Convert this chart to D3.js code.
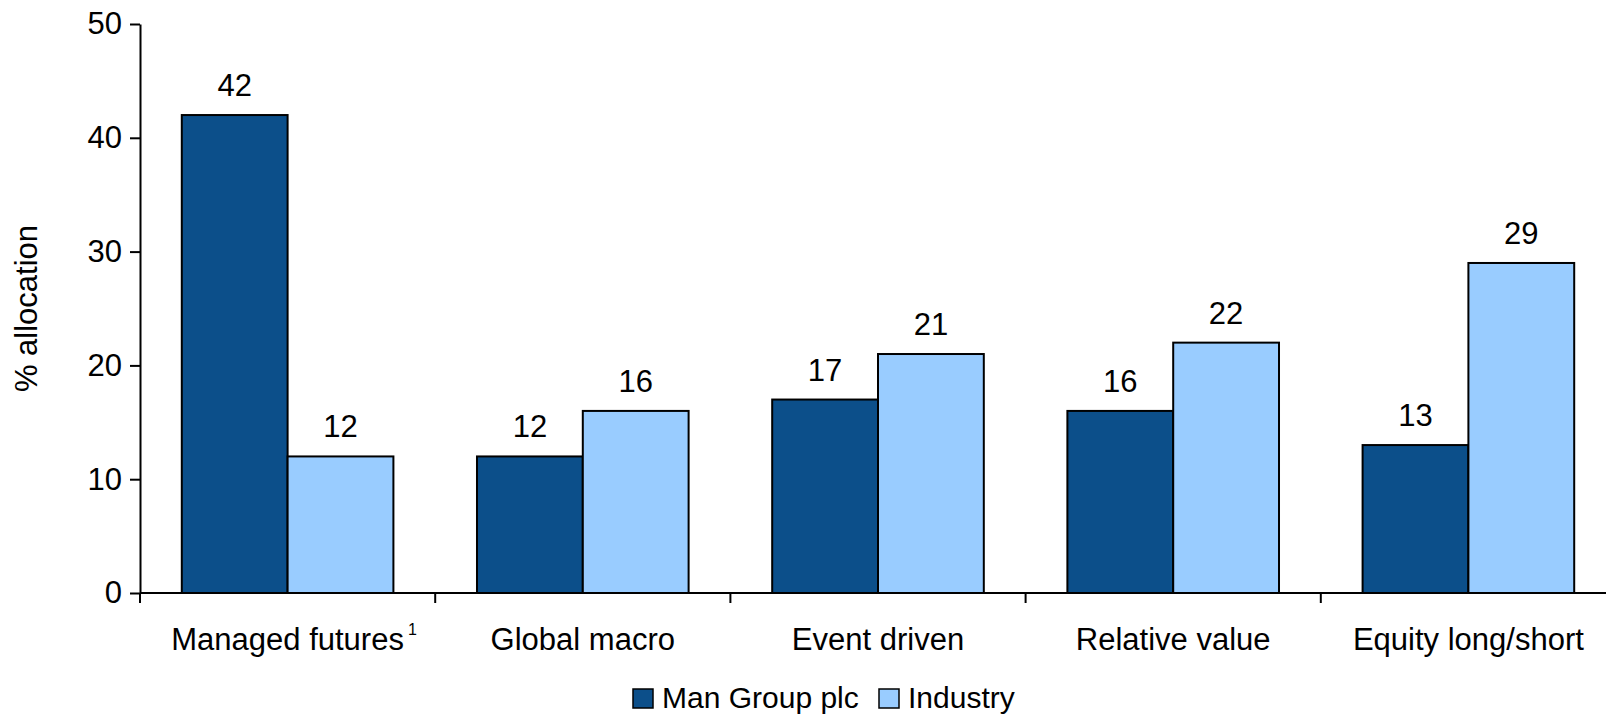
<!DOCTYPE html>
<html>
<head>
<meta charset="utf-8">
<script src="https://cdn.jsdelivr.net/npm/d3@7"></script>
<style>
  html, body { margin: 0; padding: 0; background: #fff; }
  svg { display: block; font-family: "Liberation Sans", Arial, sans-serif; }
</style>
</head>
<body>
<svg id="chart" width="1606" height="714"></svg>
<script>
const categories = ["Managed futures", "Global macro", "Event driven", "Relative value", "Equity long/short"];
const seriesNames = ["Man Group plc", "Industry"];
const manGroup = [42, 12, 17, 16, 13];
const industry = [12, 16, 21, 22, 29];
const yTicks = [0, 10, 20, 30, 40, 50];
const colors = ["#0c4f8a", "#99ccff"];

(function () {
const svg = d3.select("#chart");
const mLeft = 140, mRight = 1616, mTop = 24, mBottom = 593;
const fs = 31;

const x = d3.scaleBand().domain(categories).range([mLeft, mRight]).paddingInner(0).paddingOuter(0);
const xs = d3.scaleBand().domain(seriesNames).range([0, x.bandwidth()]).paddingInner(0).paddingOuter(0.395);
const y = d3.scaleLinear().domain([0, 50]).range([mBottom, mTop]);

const data = categories.map((c, i) => ({ cat: c, vals: [
  { s: seriesNames[0], v: manGroup[i], c: colors[0] },
  { s: seriesNames[1], v: industry[i], c: colors[1] }
]}));

// Bars
const groups = svg.append("g").selectAll("g").data(data).join("g")
  .attr("transform", d => `translate(${x(d.cat)},0)`);
groups.selectAll("rect").data(d => d.vals).join("rect")
  .attr("x", d => xs(d.s))
  .attr("y", d => y(d.v))
  .attr("width", xs.bandwidth())
  .attr("height", d => y(0) - y(d.v))
  .attr("fill", d => d.c)
  .attr("stroke", "#000")
  .attr("stroke-width", 2);
groups.selectAll("text").data(d => d.vals).join("text")
  .attr("x", d => xs(d.s) + xs.bandwidth() / 2)
  .attr("y", d => y(d.v) - 19)
  .attr("text-anchor", "middle")
  .attr("font-size", fs)
  .attr("fill", "#000")
  .text(d => d.v);

// Y axis
const yAxis = d3.axisLeft(y).tickValues(yTicks).tickSize(10).tickPadding(8).tickSizeOuter(0);
const gy = svg.append("g").attr("transform", `translate(${mLeft},0)`).call(yAxis);
gy.select(".domain").attr("stroke", "#000").attr("stroke-width", 2);
gy.selectAll(".tick line").attr("stroke", "#000").attr("stroke-width", 2);
gy.selectAll(".tick text").attr("font-size", fs).attr("fill", "#000")
  .attr("font-family", "'Liberation Sans', Arial, sans-serif");

// X axis line and boundary ticks
svg.append("line").attr("x1", mLeft).attr("x2", mRight).attr("y1", y(0)).attr("y2", y(0))
  .attr("stroke", "#000").attr("stroke-width", 2);
const bounds = categories.map(c => x(c)).concat([mRight]);
svg.append("g").selectAll("line").data(bounds).join("line")
  .attr("x1", d => d).attr("x2", d => d)
  .attr("y1", y(0)).attr("y2", y(0) + 10)
  .attr("stroke", "#000").attr("stroke-width", 2);

// Category labels
const labels = svg.append("g").selectAll("text").data(categories).join("text")
  .attr("x", d => x(d) + x.bandwidth() / 2)
  .attr("y", 650)
  .attr("text-anchor", "middle")
  .attr("font-size", fs)
  .attr("fill", "#000")
  .text(d => d);
const firstNode = labels.nodes()[0];
const len = firstNode.getComputedTextLength();
svg.append("text")
  .attr("x", x(categories[0]) + x.bandwidth() / 2 + len / 2 + 4)
  .attr("y", 635)
  .attr("font-size", 16)
  .attr("fill", "#000")
  .text("1");

// Y axis title
svg.append("text")
  .attr("transform", `translate(37,${(mTop + mBottom) / 2}) rotate(-90)`)
  .attr("text-anchor", "middle")
  .attr("font-size", fs)
  .attr("fill", "#000")
  .text("% allocation");

// Legend
const legendItems = [
  { name: seriesNames[0], color: colors[0], sx: 633 },
  { name: seriesNames[1], color: colors[1], sx: 879 }
];
const lg = svg.append("g");
lg.selectAll("rect").data(legendItems).join("rect")
  .attr("x", d => d.sx).attr("y", 689).attr("width", 20).attr("height", 19)
  .attr("fill", d => d.color).attr("stroke", "#000").attr("stroke-width", 1.5);
lg.selectAll("text").data(legendItems).join("text")
  .attr("x", d => d.sx + 29).attr("y", 708)
  .attr("font-size", 30).attr("fill", "#000")
  .text(d => d.name);
})();
</script>
</body>
</html>
